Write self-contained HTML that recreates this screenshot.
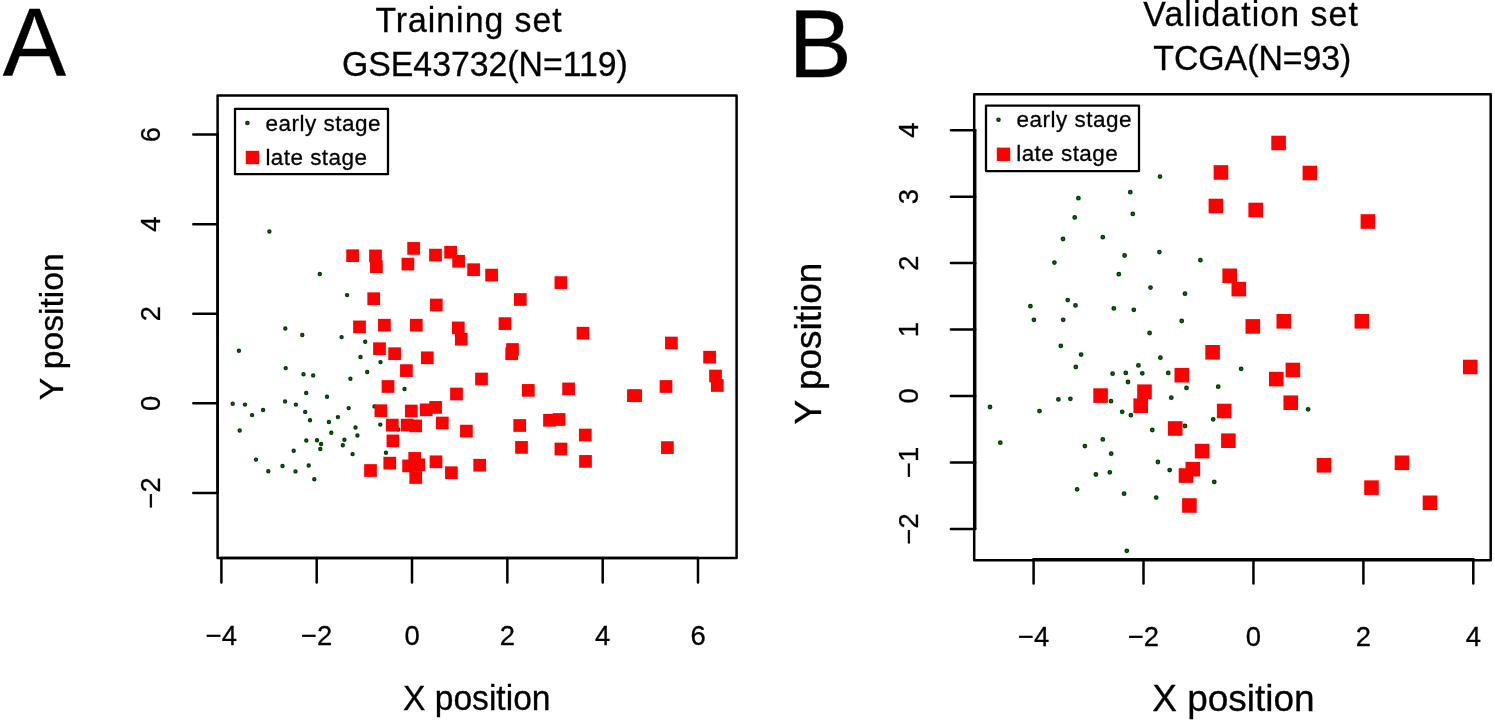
<!DOCTYPE html>
<html><head><meta charset="utf-8"><title>Figure</title>
<style>html,body{margin:0;padding:0;background:#fff;}svg{display:block;will-change:transform;}text{font-family:"Liberation Sans",sans-serif;fill:#000;stroke:#000;stroke-width:0.3px;}</style></head><body>
<svg width="1495" height="722" viewBox="0 0 1495 722">
<rect x="0" y="0" width="1495" height="722" fill="#ffffff"/>
<g fill="none" stroke="#000" stroke-width="2.5" stroke-linecap="round" stroke-linejoin="round">
<rect x="217.6" y="95.45" width="519.00" height="462.65"/>
<path d="M221.4 558.1H698.0"/>
<path d="M217.6 134.6V492.9"/>
<path d="M221.4 558.1v24.3M316.7 558.1v24.3M412.0 558.1v24.3M507.35 558.1v24.3M602.7 558.1v24.3M698.0 558.1v24.3M217.6 134.6h-24.3M217.6 224.2h-24.3M217.6 313.75h-24.3M217.6 403.3h-24.3M217.6 492.9h-24.3"/>
</g>
<g fill="none" stroke="#000" stroke-width="2.5" stroke-linecap="round" stroke-linejoin="round">
<rect x="974.2" y="94.3" width="516.50" height="465.90"/>
<path d="M1033.6 559.3000000000001H1473.3"/>
<path d="M975.2 130.25V528.9"/>
<path d="M1033.6 559.3000000000001v24.3M1143.5 559.3000000000001v24.3M1253.45 559.3000000000001v24.3M1363.4 559.3000000000001v24.3M1473.3 559.3000000000001v24.3M975.2 130.25h-24.3M975.2 196.7h-24.3M975.2 263.1h-24.3M975.2 329.6h-24.3M975.2 396.0h-24.3M975.2 462.5h-24.3M975.2 528.9h-24.3"/>
</g>
<g fill="#008600" stroke="#003c00" stroke-width="1.5"><circle cx="269.4" cy="231.5" r="1.45"/><circle cx="319.8" cy="274.0" r="1.45"/><circle cx="347.1" cy="295.1" r="1.45"/><circle cx="238.9" cy="350.8" r="1.45"/><circle cx="285.3" cy="328.5" r="1.45"/><circle cx="302.3" cy="335.0" r="1.45"/><circle cx="341.6" cy="337.1" r="1.45"/><circle cx="365.2" cy="341.8" r="1.45"/><circle cx="360.5" cy="357.0" r="1.45"/><circle cx="380.5" cy="362.1" r="1.45"/><circle cx="367.2" cy="372.0" r="1.45"/><circle cx="350.4" cy="378.8" r="1.45"/><circle cx="285.7" cy="368.1" r="1.45"/><circle cx="303.5" cy="374.3" r="1.45"/><circle cx="313.2" cy="375.4" r="1.45"/><circle cx="306.2" cy="393.0" r="1.45"/><circle cx="327.0" cy="396.8" r="1.45"/><circle cx="404.5" cy="389.0" r="1.45"/><circle cx="232.7" cy="403.7" r="1.45"/><circle cx="245.0" cy="404.6" r="1.45"/><circle cx="263.1" cy="410.0" r="1.45"/><circle cx="252.1" cy="415.1" r="1.45"/><circle cx="239.7" cy="430.5" r="1.45"/><circle cx="285.1" cy="401.4" r="1.45"/><circle cx="295.9" cy="404.6" r="1.45"/><circle cx="305.2" cy="411.9" r="1.45"/><circle cx="310.0" cy="420.3" r="1.45"/><circle cx="348.7" cy="408.1" r="1.45"/><circle cx="337.9" cy="417.1" r="1.45"/><circle cx="328.9" cy="422.0" r="1.45"/><circle cx="355.5" cy="427.5" r="1.45"/><circle cx="331.3" cy="432.7" r="1.45"/><circle cx="357.4" cy="435.5" r="1.45"/><circle cx="344.4" cy="439.8" r="1.45"/><circle cx="342.8" cy="445.2" r="1.45"/><circle cx="306.3" cy="440.5" r="1.45"/><circle cx="317.0" cy="440.2" r="1.45"/><circle cx="321.1" cy="444.0" r="1.45"/><circle cx="320.3" cy="449.0" r="1.45"/><circle cx="293.7" cy="450.7" r="1.45"/><circle cx="352.6" cy="454.1" r="1.45"/><circle cx="256.0" cy="459.6" r="1.45"/><circle cx="282.5" cy="466.0" r="1.45"/><circle cx="268.3" cy="471.3" r="1.45"/><circle cx="295.5" cy="471.4" r="1.45"/><circle cx="308.7" cy="465.5" r="1.45"/><circle cx="314.3" cy="479.3" r="1.45"/><circle cx="374.5" cy="406.4" r="1.45"/><circle cx="380.3" cy="424.6" r="1.45"/><circle cx="398.3" cy="429.5" r="1.45"/><circle cx="385.95" cy="452.8" r="1.45"/><circle cx="1160.0" cy="176.6" r="1.65"/><circle cx="1130.3" cy="192.2" r="1.65"/><circle cx="1078.4" cy="198.2" r="1.65"/><circle cx="1132.8" cy="213.9" r="1.65"/><circle cx="1074.7" cy="217.4" r="1.65"/><circle cx="1063.0" cy="239.0" r="1.65"/><circle cx="1102.8" cy="237.2" r="1.65"/><circle cx="1054.4" cy="262.6" r="1.65"/><circle cx="1124.6" cy="255.5" r="1.65"/><circle cx="1159.4" cy="252.1" r="1.65"/><circle cx="1200.4" cy="260.2" r="1.65"/><circle cx="1118.8" cy="274.2" r="1.65"/><circle cx="1150.5" cy="287.6" r="1.65"/><circle cx="1185.0" cy="293.7" r="1.65"/><circle cx="1067.7" cy="300.1" r="1.65"/><circle cx="1030.4" cy="306.2" r="1.65"/><circle cx="1075.5" cy="305.4" r="1.65"/><circle cx="1113.8" cy="308.4" r="1.65"/><circle cx="1133.8" cy="309.8" r="1.65"/><circle cx="1033.9" cy="319.8" r="1.65"/><circle cx="1063.2" cy="319.8" r="1.65"/><circle cx="1181.7" cy="321.0" r="1.65"/><circle cx="1149.6" cy="333.0" r="1.65"/><circle cx="1060.8" cy="345.9" r="1.65"/><circle cx="1081.1" cy="354.6" r="1.65"/><circle cx="1075.8" cy="367.0" r="1.65"/><circle cx="1160.4" cy="357.7" r="1.65"/><circle cx="1138.4" cy="365.4" r="1.65"/><circle cx="1112.6" cy="373.7" r="1.65"/><circle cx="1125.8" cy="372.9" r="1.65"/><circle cx="1142.3" cy="373.3" r="1.65"/><circle cx="1168.25" cy="372.9" r="1.65"/><circle cx="1128.0" cy="382.0" r="1.65"/><circle cx="1171.3" cy="397.7" r="1.65"/><circle cx="1241.1" cy="368.8" r="1.65"/><circle cx="1186.5" cy="387.9" r="1.65"/><circle cx="1218.2" cy="386.7" r="1.65"/><circle cx="990.0" cy="407.0" r="1.65"/><circle cx="1000.3" cy="442.7" r="1.65"/><circle cx="1039.5" cy="411.1" r="1.65"/><circle cx="1058.4" cy="399.4" r="1.65"/><circle cx="1070.4" cy="398.8" r="1.65"/><circle cx="1111.0" cy="401.2" r="1.65"/><circle cx="1122.2" cy="411.8" r="1.65"/><circle cx="1130.9" cy="415.2" r="1.65"/><circle cx="1152.3" cy="430.0" r="1.65"/><circle cx="1102.8" cy="439.4" r="1.65"/><circle cx="1084.9" cy="446.1" r="1.65"/><circle cx="1111.2" cy="453.7" r="1.65"/><circle cx="1157.9" cy="462.0" r="1.65"/><circle cx="1169.65" cy="470.1" r="1.65"/><circle cx="1095.9" cy="474.5" r="1.65"/><circle cx="1109.8" cy="472.3" r="1.65"/><circle cx="1213.2" cy="419.3" r="1.65"/><circle cx="1185.0" cy="426.0" r="1.65"/><circle cx="1308.1" cy="409.3" r="1.65"/><circle cx="1214.25" cy="481.95" r="1.65"/><circle cx="1077.1" cy="489.3" r="1.65"/><circle cx="1124.1" cy="493.7" r="1.65"/><circle cx="1156.2" cy="497.6" r="1.65"/><circle cx="1126.8" cy="550.85" r="1.65"/></g>
<g fill="#ff0000"><rect x="346.25" y="249.35" width="12.7" height="12.7"/><rect x="369.15" y="249.55" width="12.7" height="12.7"/><rect x="370.05" y="260.35" width="12.7" height="12.7"/><rect x="407.25" y="242.05" width="12.7" height="12.7"/><rect x="401.55" y="257.75" width="12.7" height="12.7"/><rect x="367.35" y="292.35" width="12.7" height="12.7"/><rect x="429.15" y="248.75" width="12.7" height="12.7"/><rect x="444.25" y="245.85" width="12.7" height="12.7"/><rect x="452.25" y="254.95" width="12.7" height="12.7"/><rect x="467.25" y="263.35" width="12.7" height="12.7"/><rect x="485.25" y="268.75" width="12.7" height="12.7"/><rect x="554.55" y="276.25" width="12.7" height="12.7"/><rect x="513.95" y="293.15" width="12.7" height="12.7"/><rect x="429.95" y="298.65" width="12.7" height="12.7"/><rect x="353.15" y="320.55" width="12.7" height="12.7"/><rect x="378.05" y="318.85" width="12.7" height="12.7"/><rect x="409.95" y="318.85" width="12.7" height="12.7"/><rect x="373.15" y="342.35" width="12.7" height="12.7"/><rect x="388.25" y="347.35" width="12.7" height="12.7"/><rect x="400.05" y="364.25" width="12.7" height="12.7"/><rect x="381.65" y="380.15" width="12.7" height="12.7"/><rect x="451.95" y="321.55" width="12.7" height="12.7"/><rect x="454.95" y="332.85" width="12.7" height="12.7"/><rect x="498.65" y="317.25" width="12.7" height="12.7"/><rect x="576.65" y="326.85" width="12.7" height="12.7"/><rect x="506.15" y="343.15" width="12.7" height="12.7"/><rect x="505.35" y="347.45" width="12.7" height="12.7"/><rect x="420.95" y="351.45" width="12.7" height="12.7"/><rect x="475.15" y="372.65" width="12.7" height="12.7"/><rect x="450.15" y="387.65" width="12.7" height="12.7"/><rect x="521.95" y="384.05" width="12.7" height="12.7"/><rect x="562.25" y="382.55" width="12.7" height="12.7"/><rect x="665.05" y="336.65" width="12.7" height="12.7"/><rect x="703.25" y="350.85" width="12.7" height="12.7"/><rect x="709.15" y="369.65" width="12.7" height="12.7"/><rect x="710.95" y="379.15" width="12.7" height="12.7"/><rect x="659.65" y="380.15" width="12.7" height="12.7"/><rect x="627.05" y="389.35" width="12.7" height="12.7"/><rect x="629.25" y="389.35" width="12.7" height="12.7"/><rect x="374.55" y="404.35" width="12.7" height="12.7"/><rect x="404.95" y="404.65" width="12.7" height="12.7"/><rect x="419.85" y="403.50" width="12.7" height="12.7"/><rect x="429.25" y="401.05" width="12.7" height="12.7"/><rect x="385.95" y="418.75" width="12.7" height="12.7"/><rect x="400.85" y="418.75" width="12.7" height="12.7"/><rect x="409.25" y="419.55" width="12.7" height="12.7"/><rect x="435.95" y="416.65" width="12.7" height="12.7"/><rect x="460.05" y="424.75" width="12.7" height="12.7"/><rect x="386.55" y="434.55" width="12.7" height="12.7"/><rect x="513.35" y="419.15" width="12.7" height="12.7"/><rect x="543.15" y="413.95" width="12.7" height="12.7"/><rect x="552.75" y="413.15" width="12.7" height="12.7"/><rect x="515.15" y="441.05" width="12.7" height="12.7"/><rect x="554.55" y="442.65" width="12.7" height="12.7"/><rect x="578.95" y="428.65" width="12.7" height="12.7"/><rect x="579.15" y="455.05" width="12.7" height="12.7"/><rect x="383.40" y="456.80" width="12.7" height="12.7"/><rect x="408.35" y="452.05" width="12.7" height="12.7"/><rect x="402.25" y="459.55" width="12.7" height="12.7"/><rect x="412.45" y="458.45" width="12.7" height="12.7"/><rect x="409.35" y="471.15" width="12.7" height="12.7"/><rect x="429.65" y="455.45" width="12.7" height="12.7"/><rect x="445.05" y="466.35" width="12.7" height="12.7"/><rect x="473.35" y="458.85" width="12.7" height="12.7"/><rect x="364.15" y="464.15" width="12.7" height="12.7"/><rect x="661.05" y="441.25" width="12.7" height="12.7"/><rect x="1213.65" y="165.15" width="14.6" height="14.6"/><rect x="1208.60" y="198.70" width="14.6" height="14.6"/><rect x="1271.30" y="135.70" width="14.6" height="14.6"/><rect x="1302.60" y="165.70" width="14.6" height="14.6"/><rect x="1248.40" y="202.70" width="14.6" height="14.6"/><rect x="1360.60" y="214.20" width="14.6" height="14.6"/><rect x="1222.40" y="268.50" width="14.6" height="14.6"/><rect x="1231.50" y="281.80" width="14.6" height="14.6"/><rect x="1093.30" y="388.30" width="14.6" height="14.6"/><rect x="1137.20" y="384.40" width="14.6" height="14.6"/><rect x="1174.50" y="367.90" width="14.6" height="14.6"/><rect x="1245.50" y="319.10" width="14.6" height="14.6"/><rect x="1276.50" y="314.00" width="14.6" height="14.6"/><rect x="1354.55" y="314.00" width="14.6" height="14.6"/><rect x="1205.30" y="345.00" width="14.6" height="14.6"/><rect x="1285.60" y="362.70" width="14.6" height="14.6"/><rect x="1269.00" y="371.80" width="14.6" height="14.6"/><rect x="1283.45" y="395.40" width="14.6" height="14.6"/><rect x="1463.00" y="359.70" width="14.6" height="14.6"/><rect x="1133.40" y="398.40" width="14.6" height="14.6"/><rect x="1167.90" y="421.20" width="14.6" height="14.6"/><rect x="1178.70" y="468.25" width="14.6" height="14.6"/><rect x="1216.90" y="403.70" width="14.6" height="14.6"/><rect x="1221.10" y="433.40" width="14.6" height="14.6"/><rect x="1194.80" y="443.80" width="14.6" height="14.6"/><rect x="1185.50" y="461.90" width="14.6" height="14.6"/><rect x="1316.70" y="458.00" width="14.6" height="14.6"/><rect x="1394.70" y="455.50" width="14.6" height="14.6"/><rect x="1364.20" y="480.35" width="14.6" height="14.6"/><rect x="1182.10" y="498.20" width="14.6" height="14.6"/><rect x="1422.70" y="495.50" width="14.6" height="14.6"/></g>
<rect x="235.0" y="108.9" width="153.00" height="65.30" fill="#fff" stroke="#000" stroke-width="2.3" stroke-linejoin="round"/>
<circle cx="247.4" cy="123.0" r="1.55" fill="#008600" stroke="#003c00" stroke-width="1.5"/>
<rect x="245.75" y="150.80" width="13.4" height="13.4" fill="#ff0000"/>
<rect x="986.0" y="105.6" width="153.00" height="65.50" fill="#fff" stroke="#000" stroke-width="2.3" stroke-linejoin="round"/>
<circle cx="998.5" cy="119.8" r="1.55" fill="#008600" stroke="#003c00" stroke-width="1.5"/>
<rect x="996.80" y="147.60" width="13.4" height="13.4" fill="#ff0000"/>
<text id="A" transform="translate(2.8 75.2) scale(0.981 1)" font-size="96.8" letter-spacing="0">A</text>
<text id="B" transform="translate(788.4 77.4) scale(0.982 1)" font-size="96.8" letter-spacing="0">B</text>
<text id="t1" transform="translate(375.4 32.2) scale(0.9804 1)" font-size="34.48" letter-spacing="1.02">Training set</text>
<text id="t2" transform="translate(342.0 75.6) scale(0.9804 1)" font-size="34.48" letter-spacing="0.0">GSE43732(N=119)</text>
<text id="t3" transform="translate(1143.3 26.3) scale(0.9804 1)" font-size="34.48" letter-spacing="1.112">Validation set</text>
<text id="t4" transform="translate(1153.3 70.0) scale(0.9804 1)" font-size="34.48" letter-spacing="0.0">TCGA(N=93)</text>
<text id="xl1" transform="translate(403.0 709.5) scale(0.9804 1)" font-size="34.27" letter-spacing="0.0">X position</text>
<text id="xl2" transform="translate(1152.2 710.8) scale(0.9804 1)" font-size="37.74" letter-spacing="0.0">X position</text>
<text id="lgLe" transform="translate(265.4 130.8) scale(0.9804 1)" font-size="22.95" letter-spacing="0.51">early stage</text>
<text id="lgLl" transform="translate(265.4 164.5) scale(0.9804 1)" font-size="22.95" letter-spacing="0.459">late stage</text>
<text id="lgRe" transform="translate(1016.5 127.3) scale(0.9804 1)" font-size="22.95" letter-spacing="0.51">early stage</text>
<text id="lgRl" transform="translate(1016.2 160.8) scale(0.9804 1)" font-size="22.95" letter-spacing="0.459">late stage</text>
<text id="yl1" transform="translate(63.3 400.3) rotate(-90)" font-size="33.6" letter-spacing="0">Y position</text>
<text id="yl2" transform="translate(821.4 424.4) rotate(-90)" font-size="37" letter-spacing="0">Y position</text>
<g font-size="27.4" text-anchor="middle">
<text x="221.4" y="644.8">−4</text>
<text x="316.7" y="644.8">−2</text>
<text x="412.0" y="644.8">0</text>
<text x="507.35" y="644.8">2</text>
<text x="602.7" y="644.8">4</text>
<text x="698.0" y="644.8">6</text>
<text x="1033.6" y="645.9">−4</text>
<text x="1143.5" y="645.9">−2</text>
<text x="1253.45" y="645.9">0</text>
<text x="1363.4" y="645.9">2</text>
<text x="1473.3" y="645.9">4</text>
<text transform="translate(160.1 134.6) rotate(-90)">6</text>
<text transform="translate(160.1 224.2) rotate(-90)">4</text>
<text transform="translate(160.1 313.75) rotate(-90)">2</text>
<text transform="translate(160.1 403.3) rotate(-90)">0</text>
<text transform="translate(160.1 492.9) rotate(-90)">−2</text>
<text transform="translate(917.8 130.25) rotate(-90)">4</text>
<text transform="translate(917.8 196.7) rotate(-90)">3</text>
<text transform="translate(917.8 263.1) rotate(-90)">2</text>
<text transform="translate(917.8 329.6) rotate(-90)">1</text>
<text transform="translate(917.8 396.0) rotate(-90)">0</text>
<text transform="translate(917.8 462.5) rotate(-90)">−1</text>
<text transform="translate(917.8 528.9) rotate(-90)">−2</text>
</g>
</svg></body></html>
